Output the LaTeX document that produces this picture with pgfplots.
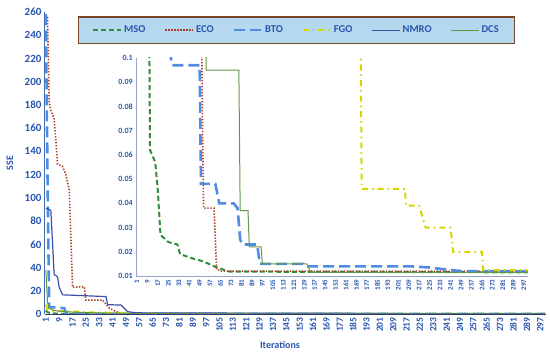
\documentclass[border=0pt]{standalone}
\usepackage{fontspec}
\setmainfont{Carlito}
\usepackage{pgfplots}
\usepackage{pgfplotstable}
\pgfplotsset{compat=1.18}
\definecolor{txtblue}{RGB}{40,85,175}
\definecolor{msoc}{RGB}{50,140,60}
\definecolor{ecoc}{RGB}{175,60,40}
\definecolor{btoc}{RGB}{80,140,225}
\definecolor{fgoc}{RGB}{215,215,0}
\definecolor{nmroc}{RGB}{60,80,170}
\definecolor{dcsc}{RGB}{100,150,75}
\definecolor{legfill}{RGB}{182,216,238}
\definecolor{legdraw}{RGB}{120,70,40}
\definecolor{insetax}{RGB}{150,165,205}

\pgfplotstableread{
x y
1 3.0
2 1.5
4 0.8
7 0.4
10 0.15
11 0.062
15 0.057
17 0.045
19 0.027
25 0.024
32 0.023
34 0.019
45 0.017
52 0.016
60 0.014
65 0.013
72 0.0118
300 0.0115
}\msodata

\pgfplotstableread{
x y
1 258
2 255
3 183
4 175
6 168
7 150
8 129
11 127
13 120
15 107
17 23
24 23.5
25 12
35 12
39 5
43 2
46 0.6
50 0.15
51 0.08
52 0.038
60 0.038
62 0.013
65 0.012
300 0.012
}\ecodata

\pgfplotstableread{
x y
1 258
2 120
3 6
12 5
13 1.2
18 0.6
25 0.2
27 0.1
28 0.097
49 0.097
50 0.048
61 0.048
64 0.040
75 0.040
78 0.038
80 0.025
82 0.023
93 0.023
95 0.015
128 0.015
130 0.014
210 0.014
225 0.0135
240 0.0125
250 0.012
300 0.012
}\btodata

\pgfplotstableread{
x y
1 8
2 4
3 3
8 2.5
20 2
30 1.2
45 1.0
70 0.6
90 0.3
120 0.2
150 0.15
172 0.12
173 0.046
206 0.046
207 0.039
217 0.039
222 0.030
241 0.030
243 0.020
265 0.020
266 0.0124
300 0.0124
}\fgodata

\pgfplotstableread{
x y
1 91
3 90
4 89
6 34
8 32
9 23
11 16.5
37 15
38 8
46 7.7
50 2
55 1
100 0.8
160 0.6
209 0.5
210 0.3
300 0.3
}\nmrodata

\pgfplotstableread{
x y
1 38
2 10
3 5
6 3
12 2
25 1.2
45 0.6
53 0.2
54 0.095
79 0.095
80 0.037
86 0.037
87 0.022
96 0.022
97 0.015
131 0.015
134 0.0115
300 0.0115
}\dcsdata

\pgfplotsset{
  msostyle/.style={msoc, line width=2pt, dash pattern=on 5pt off 3pt},
  ecostyle/.style={ecoc, line width=1.6pt, dash pattern=on 1.4pt off 1.6pt},
  btostyle/.style={btoc, line width=2.6pt, dash pattern=on 11pt off 5pt},
  fgostyle/.style={fgoc, line width=2pt, dash pattern=on 6pt off 4pt on 1.6pt off 4pt},
  nmrostyle/.style={nmroc, line width=1.2pt},
  dcsstyle/.style={dcsc, line width=1pt},
}

\begin{document}
\begin{tikzpicture}
\path[use as bounding box] (0,0) rectangle (550pt,355pt);
\begin{axis}[
  at={(45pt,41pt)}, anchor=south west,
  width=501pt, height=302pt, scale only axis,
  xmin=0.5, xmax=300.5, ymin=0, ymax=260,
  axis x line*=bottom, axis y line*=left,
  x axis line style={draw=nmroc!70!black, line width=0.8pt},
  y axis line style={draw=btoc!80!black, line width=1pt},
  xtick={1,9,...,297}, ytick={0,20,...,260},
  major tick length=0pt,
  /pgf/number format/assume math mode=true,
  scaled ticks=false,
  xticklabel style={rotate=90, anchor=east, font=\bfseries\fontsize{9.5}{10}\selectfont, text=txtblue, xshift=0pt},
  yticklabel style={font=\bfseries\fontsize{11}{12}\selectfont, text=txtblue},
  xlabel={Iterations}, ylabel={SSE},
  xlabel style={at={(axis description cs:0.469,-0.103)}, anchor=center, font=\bfseries\fontsize{10}{12}\selectfont, text=txtblue},
  ylabel style={at={(axis description cs:-0.07,0.5)}, anchor=center, rotate=0, font=\bfseries\fontsize{10}{12}\selectfont, text=txtblue},
  legend columns=6,
  legend image code/.code={\draw[#1] (0pt,0pt) -- (28pt,0pt);},
  legend style={at={(0.502,0.94)}, anchor=center, draw=legdraw, fill=legfill,
    line width=1.2pt, inner xsep=14pt, inner ysep=7pt,
    font=\bfseries\fontsize{10.5}{12}\selectfont, text=txtblue,
    /tikz/every even column/.append style={column sep=17pt}},
]
\addplot[msostyle] table[x=x,y=y] {\msodata};
\addlegendentry{MSO}
\addplot[ecostyle] table[x=x,y=y] {\ecodata};
\addlegendentry{ECO}
\addplot[btostyle] table[x=x,y=y] {\btodata};
\addlegendentry{BTO}
\addplot[fgostyle] table[x=x,y=y] {\fgodata};
\addlegendentry{FGO}
\addplot[nmrostyle] table[x=x,y=y] {\nmrodata};
\addlegendentry{NMRO}
\addplot[dcsstyle] table[x=x,y=y] {\dcsdata};
\addlegendentry{DCS}
\end{axis}

\begin{axis}[
  at={(136.3pt,79pt)}, anchor=south west,
  width=392pt, height=218pt, scale only axis,
  xmin=0.5, xmax=300.5, ymin=0.01, ymax=0.1,
  axis x line*=bottom, axis y line*=left,
  axis line style={draw=insetax, line width=0.8pt},
  xtick={1,9,...,297}, ytick={0.01,0.02,...,0.1},
  major tick length=0pt,
  /pgf/number format/assume math mode=true,
  scaled ticks=false,
  yticklabel={\pgfmathprintnumber[fixed,precision=2]{\tick}},
  xticklabel style={rotate=90, anchor=east, font=\bfseries\fontsize{7}{8}\selectfont, text=txtblue},
  yticklabel style={font=\bfseries\fontsize{8}{9}\selectfont, text=txtblue},
  y filter/.expression={min(y,0.15)},
]
\addplot[msostyle] table[x=x,y=y] {\msodata};
\addplot[ecostyle] table[x=x,y=y] {\ecodata};
\addplot[btostyle] table[x=x,y=y] {\btodata};
\addplot[fgostyle] table[x=x,y=y] {\fgodata};
\addplot[nmrostyle] table[x=x,y=y] {\nmrodata};
\addplot[dcsstyle] table[x=x,y=y] {\dcsdata};
\end{axis}
\end{tikzpicture}
\end{document}
